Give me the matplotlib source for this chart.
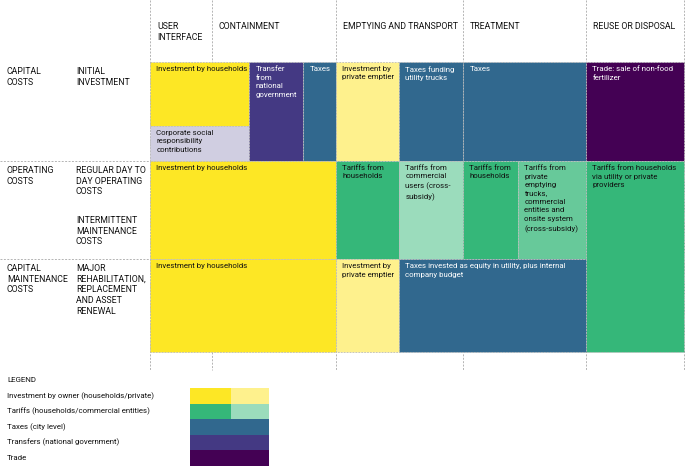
import matplotlib.pyplot as plt
from matplotlib.patches import Rectangle

plt.rcParams['font.family'] = ['Roboto', 'DejaVu Sans']

# stages of the sanitation chain (header) and cost rows
stages = ["USER\nINTERFACE", "CONTAINMENT", "EMPTYING AND TRANSPORT", "TREATMENT", "REUSE OR DISPOSAL"]
cost_types = ["CAPITAL\nCOSTS", "OPERATING\nCOSTS", "CAPITAL\nMAINTENANCE\nCOSTS"]
cost_items = [
    ["INITIAL\nINVESTMENT"],
    ["REGULAR DAY TO\nDAY OPERATING\nCOSTS", "INTERMITTENT\nMAINTENANCE\nCOSTS"],
    ["MAJOR\nREHABILITATION,\nREPLACEMENT\nAND ASSET\nRENEWAL"],
]

# funding blocks: label, funding type
block_labels = [
    "Investment by households",
    "Corporate social\nresponsibility\ncontributions",
    "Transfer\nfrom\nnational\ngovernment",
    "Taxes",
    "Investment by\nprivate emptier",
    "Taxes funding\nutility trucks",
    "Taxes",
    "Trade: sale of non-food\nfertilizer",
    "Investment by households",
    "Tariffs from\nhouseholds",
    "Tariffs from\ncommercial\nusers (cross-\nsubsidy)",
    "Tariffs from\nhouseholds",
    "Tariffs from\nprivate\nemptying\ntrucks,\ncommercial\nentities and\nonsite system\n(cross-subsidy)",
    "Tariffs from households\nvia utility or private\nproviders",
    "Investment by households",
    "Investment by\nprivate emptier",
    "Taxes invested as equity in utility, plus internal\ncompany budget",
]
block_types = [
    "owner", "csr", "transfer", "taxes", "owner_light", "taxes", "taxes", "trade",
    "owner", "tariff", "tariff_light", "tariff", "tariff_mid", "tariff",
    "owner", "owner_light", "taxes",
]

legend_labels = [
    "Investment by owner (households/private)",
    "Tariffs (households/commercial entities)",
    "Taxes (city level)",
    "Transfers (national government)",
    "Trade",
]
legend_types = [("owner", "owner_light"), ("tariff", "tariff_light"), ("taxes",), ("transfer",), ("trade",)]

colors = {
    "owner": "#FDE725",
    "owner_light": "#FEF18D",
    "csr": "#D0CEE1",
    "transfer": "#443983",
    "taxes": "#31688E",
    "trade": "#440154",
    "tariff": "#35B779",
    "tariff_light": "#9BDCBC",
    "tariff_mid": "#67C99A",
}
white_text = {"transfer", "taxes", "trade"}

# layout grid (pixel units)
col_x = [150, 212, 249, 303, 336, 399, 463, 518, 586, 684]
row_y = [62, 126, 161, 259, 352]
stage_cols = [0, 1, 4, 6, 8]
# (col0, col1, row0, row1) for each block
spans = [
    (0, 2, 0, 1), (0, 2, 1, 2), (2, 3, 0, 2), (3, 4, 0, 2), (4, 5, 0, 2), (5, 6, 0, 2),
    (6, 8, 0, 2), (8, 9, 0, 2),
    (0, 4, 2, 3), (4, 5, 2, 3), (5, 6, 2, 3), (6, 7, 2, 3), (7, 8, 2, 3), (8, 9, 2, 4),
    (0, 4, 3, 4), (4, 5, 3, 4), (5, 8, 3, 4),
]

fig = plt.figure(figsize=(6.85, 4.66), dpi=100)
ax = fig.add_axes([0, 0, 1, 1])
ax.set_xlim(0, 685)
ax.set_ylim(466, 0)
ax.axis("off")

dash = dict(color="#b4b4b4", lw=0.7, ls=(0, (2, 1.5)))

# grid lines
for x in [150, 336, 463, 586, 684]:
    ax.plot([x, x], [0, 370], **dash, zorder=1)
ax.plot([212, 212], [0, 62], **dash, zorder=1)
ax.plot([212, 212], [352, 370], **dash, zorder=1)
for y in [161, 259]:
    ax.plot([0, 150], [y, y], **dash, zorder=1)

# blocks
for (c0, c1, r0, r1), label, kind in zip(spans, block_labels, block_types):
    x0, x1 = col_x[c0], col_x[c1]
    y0, y1 = row_y[r0], row_y[r1]
    ax.add_patch(Rectangle((x0, y0), x1 - x0, y1 - y0, facecolor=colors[kind],
                           edgecolor="#bdbdbd", lw=0.6, ls=(0, (2, 1.5)), zorder=2))
    tc = "white" if kind in white_text else "#111111"
    ax.text(x0 + 6.5, y0 + 4, label, fontsize=5.7, color=tc, va="top", ha="left",
            linespacing=1.5, zorder=3)

# header
for name, c in zip(stages, stage_cols):
    ax.text(col_x[c] + 7, 22, name, fontsize=6.3, va="top", ha="left", color="#111111",
            linespacing=1.25)

# row labels
row_tops = [row_y[0], row_y[2], row_y[3]]
for top, ctype, items in zip(row_tops, cost_types, cost_items):
    ax.text(7, top + 5, ctype, fontsize=6.3, va="top", ha="left", color="#111111", linespacing=1.25)
    off = 5
    for item in items:
        ax.text(76, top + off, item, fontsize=6.3, va="top", ha="left", color="#111111",
                linespacing=1.25)
        off += 50

# legend
ax.text(7, 380, "LEGEND", fontsize=5.7, va="center", ha="left", color="#111111")
sw_top = 388
sw_h = 15.6
for i, (lab, kinds) in enumerate(zip(legend_labels, legend_types)):
    y0 = sw_top + i * sw_h
    ax.text(7, y0 + sw_h / 2, lab, fontsize=5.7, va="center", ha="left", color="#111111")
    if len(kinds) == 2:
        ax.add_patch(Rectangle((190, y0), 41, sw_h, facecolor=colors[kinds[0]], lw=0))
        ax.add_patch(Rectangle((231, y0), 38, sw_h, facecolor=colors[kinds[1]], lw=0))
    else:
        ax.add_patch(Rectangle((190, y0), 79, sw_h, facecolor=colors[kinds[0]], lw=0))

fig.savefig("out.png", dpi=100)
